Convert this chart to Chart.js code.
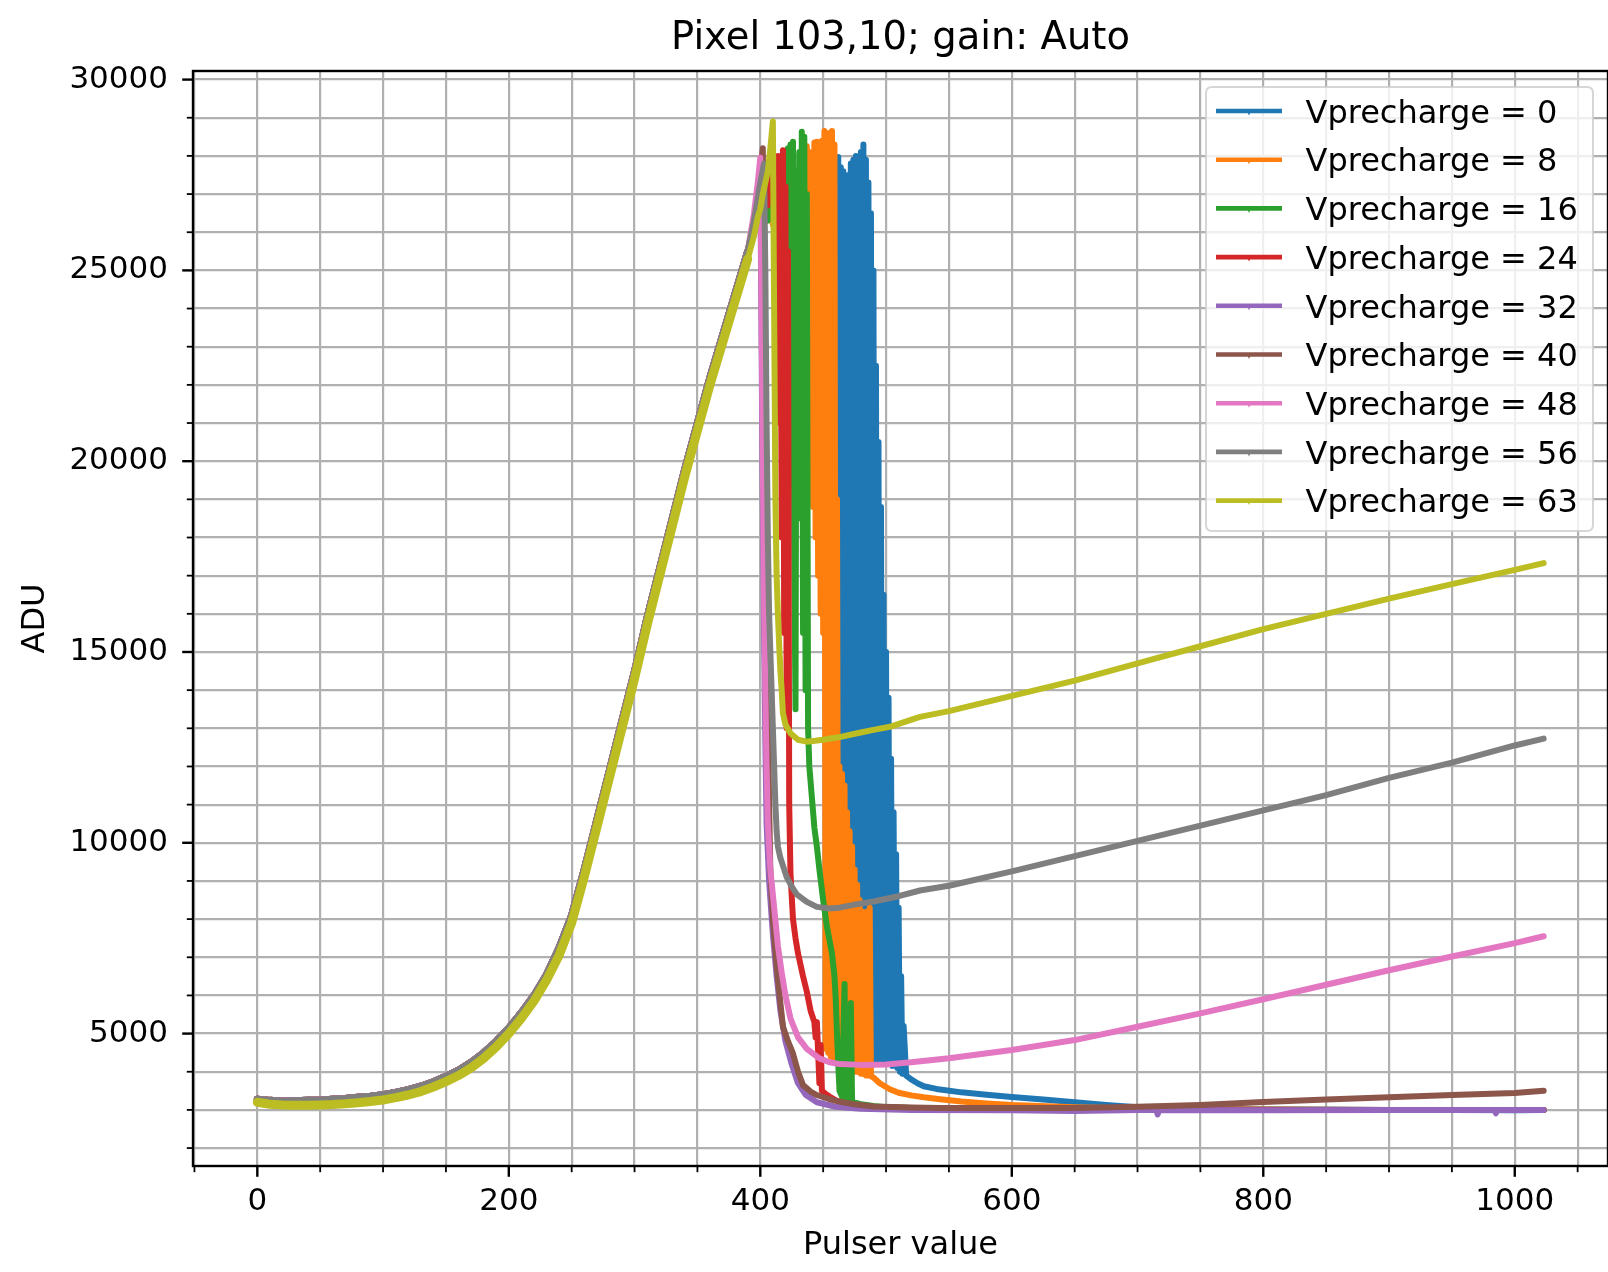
<!DOCTYPE html>
<html><head><meta charset="utf-8">
<script src="https://cdn.jsdelivr.net/npm/chart.js@4.4.1/dist/chart.umd.min.js"></script>
<style>html,body{margin:0;padding:0;background:#fff;}canvas{display:block;}</style>
</head><body>
<canvas id="c" width="1608" height="1272" style="width:1608px;height:1272px"></canvas>
<script>
// ---------------- DATA ----------------
const chartTitle = 'Pixel 103,10; gain: Auto';
const xTitle = 'Pulser value';
const yTitle = 'ADU';
const seriesLabels = ['Vprecharge = 0','Vprecharge = 8','Vprecharge = 16','Vprecharge = 24','Vprecharge = 32','Vprecharge = 40','Vprecharge = 48','Vprecharge = 56','Vprecharge = 63'];
const seriesColors = ['#1f77b4','#ff7f0e','#2ca02c','#d62728','#9467bd','#8c564b','#e377c2','#7f7f7f','#bcbd22'];
const xRange = [-51.15, 1074.15];
const yRange = [1530, 30225];
const xTickValues = [-50,0,50,100,150,200,250,300,350,400,450,500,550,600,650,700,750,800,850,900,950,1000,1050];
const yTickValues = [2000,3000,4000,5000,6000,7000,8000,9000,10000,11000,12000,13000,14000,15000,16000,17000,18000,19000,20000,21000,22000,23000,24000,25000,26000,27000,28000,29000,30000];
const xMajorTicks = [0, 200, 400, 600, 800, 1000];
const yMajorTicks = [5000, 10000, 15000, 20000, 25000, 30000];

// shared rising part (pulser 0..390)
const riseX = [0,10,20,30,40,50,60,70,80,90,100,110,120,130,140,150,160,170,180,190,200,210,220,230,240,250,260,270,280,290,300,310,320,330,340,350,360,370,380,390];
const riseY = [3280,3250,3230,3240,3250,3260,3280,3300,3330,3360,3400,3460,3530,3620,3740,3880,4040,4250,4500,4800,5150,5550,6000,6550,7250,8100,9300,10600,11900,13200,14500,15900,17200,18500,19800,21000,22200,23300,24400,25500];
const riseY63 = [3200,3150,3130,3120,3120,3130,3140,3160,3190,3220,3260,3320,3390,3480,3600,3740,3900,4100,4350,4650,5000,5400,5850,6400,7050,7900,9100,10400,11700,13000,14300,15700,17000,18300,19600,20800,22000,23100,24200,25300];

// per-series behaviour after the rise: [pulser, ADU]
const tail0 = [[395,26300],[398,26900],[400,27100],[402,27400],[404,26700],[406,27500],[408,26900],[410,27600],[412,26600],[414,27300],[416,25900],[418,27200],[420,26400],[422,27400],[424,25300],[426,26800],[428,27300],[430,26000],[432,27500],[434,26600],[436,25600],[438,27300],[440,26500],[442,27200],[443,26500],[445,27800],[447,26200],[449,27500],[451,25000],[453,27000],[455,24400],[457,26800],[459,25500],[460,27600],
[461,4600],[462,27970],[463,4500],[464,27700],[465,4500],[466,27600],[467,4450],[468,27300],[469,4450],[470,27500],
[471,4400],[472,27800],[473,4400],[474,27900],[475,4400],[476,28000],[477,4350],[478,27900],[479,4350],[480,28100],
[481,4350],[482,28300],[483,4300],[484,27900],[485,4300],[486,27300],[487,4300],[488,26500],[489,4400],[490,25000],
[491,4300],[492,22500],[493,4350],[494,20500],[495,4300],[496,18800],[497,4250],[498,16500],[499,4300],[500,15000],
[501,4200],[502,13800],[503,4250],[504,12200],[505,4150],[506,10800],[507,4200],[508,9700],[509,4100],[510,8300],
[511,4000],[512,6500],[513,3950],[514,5200],[516,3900],[520,3800],[525,3700],[530,3620],[540,3550],[560,3460],[580,3400],[600,3340],[625,3270],[650,3200],[675,3130],[700,3070],[750,3030],[800,3020],[850,3010],[900,3000],[950,3000],[1000,2990],[1023,3000]];
const tail8 = [[395,26100],[398,26700],[400,27000],[402,26400],[404,27200],[406,26500],[408,27400],[410,26200],[412,27100],[414,25800],[416,26900],[418,27300],[420,26100],[422,26800],[424,24800],[426,26400],[428,27000],[430,25600],[432,27400],[434,26300],
[435,28100],[436,24500],[437,28250],[438,22500],[439,28000],[440,19500],[441,28100],[442,18800],[443,28350],[444,18000],[445,28370],[446,17000],[447,28200],[448,16000],[449,28400],[450,15500],[451,28650],[452,4600],[453,28500],[454,4500],[455,28600],[456,4400],[457,28650],[458,4350],[459,28300],[460,4300],[461,19000],[462,4250],[463,12000],[464,4200],[465,11800],[466,4150],[467,11500],[468,4100],[469,10800],[470,4100],[471,10300],[472,4050],[473,9900],[474,4050],[475,9300],[476,4000],[477,8900],[478,4000],[479,8500],[480,3950],[481,8200],[482,3950],[483,8100],[484,3900],[485,8200],[486,3900],[487,8300],[488,3880],
[490,3850],[495,3700],[500,3600],[503,3540],[510,3450],[520,3380],[530,3330],[543,3280],[560,3220],[580,3170],[600,3130],[650,3070],[700,3040],[750,3020],[800,3010],[900,3000],[1000,3000],[1023,3000]];
const tail16 = [[395,26200],[398,26800],[400,27100],[402,26600],[404,27300],[406,26300],[408,27500],[410,26800],[412,27600],[414,26500],[416,27700],[418,27000],[420,27900],[421,25000],[422,28200],[423,23000],[424,28300],[425,21000],[426,28370],[427,17500],[428,13500],[429,27600],[430,22000],[431,28100],[432,18500],[433,28630],[434,15500],[435,28500],[436,14000],[437,27000],[438,13000],[439,12000],[441,11200],[443,10400],[445,9900],[447,9300],[450,8500],[453,7800],[457,7100],[459,6500],[460,5900],[461,5000],[462,4200],[463,3500],[465,3350],[467,6300],[468,3300],[470,3250],[472,5800],[473,3200],[476,3180],[480,3150],[490,3100],[500,3070],[520,3050],[550,3030],[600,3020],[700,3000],[800,3000],[900,3000],[1023,3000]];
const tail24 = [[395,26000],[398,26600],[400,27000],[402,26500],[404,27200],[406,26700],[408,27500],[410,26900],[412,27900],[413,24000],[414,28000],[415,21000],[416,27700],[417,18000],[418,28150],[419,15500],[420,27200],[421,13000],[422,25500],[423,11000],[424,9200],[426,8000],[428,7500],[430,7100],[432,6800],[434,6500],[437,6100],[440,5600],[443,5300],[444,4900],[445,5300],[446,4500],[447,3700],[448,4700],[449,3500],[452,3420],[455,3350],[460,3250],[465,3200],[470,3150],[480,3100],[490,3080],[520,3050],[560,3030],[600,3020],[700,3010],[800,3000],[900,3000],[1023,3000]];
const tail32 = [[395,26200],[398,27000],[400,27600],[401,23000],[402,19000],[403,15500],[404,12700],[405,10500],[407,9000],[410,7600],[413,6500],[416,5600],[420,4800],[425,4200],[430,3700],[436,3400],[445,3200],[460,3080],[480,3030],[520,3000],[600,2990],[650,2970],[700,3000],[715,3000],[716,2880],[717,3000],[800,2990],[900,3000],[984,3000],[985,2910],[986,3000],[1023,3000]];
const tail40 = [[395,26300],[398,27100],[400,27600],[402,28200],[403,24000],[404,20000],[405,16500],[406,13500],[407,11000],[408,9300],[410,8000],[413,6750],[416,5800],[418,5180],[422,4800],[426,4480],[430,4000],[434,3650],[440,3480],[445,3390],[455,3280],[463,3215],[475,3150],[490,3090],[520,3060],[543,3050],[600,3050],[650,3050],[700,3080],[750,3130],[800,3210],[850,3270],[900,3330],[950,3390],[1000,3440],[1023,3500]];
const tail48 = [[395,26500],[398,27300],[400,27950],[401,24000],[402,20000],[403,16500],[404,14000],[405,12000],[406,10500],[408,9300],[411,8300],[414,7300],[417,6600],[420,6000],[424,5400],[430,4900],[437,4600],[447,4350],[455,4250],[463,4200],[480,4180],[500,4190],[520,4250],[550,4355],[600,4570],[650,4830],[700,5180],[750,5530],[800,5900],[850,6280],[900,6660],[950,7020],[1000,7370],[1023,7550]];
const tail56 = [[395,26300],[398,26900],[400,27300],[403,27800],[404,25000],[405,21000],[406,18000],[407,16000],[408,15000],[409,14000],[410,13000],[411,12000],[412,11000],[413,10300],[414,9900],[416,9600],[418,9400],[421,9100],[425,8850],[429,8650],[437,8450],[445,8320],[455,8280],[463,8300],[475,8380],[490,8460],[510,8600],[527,8750],[551,8880],[600,9250],[650,9650],[700,10050],[750,10450],[800,10850],[850,11250],[900,11700],[950,12100],[1000,12550],[1023,12730]];
const tail63 = [[395,25900],[398,26400],[400,26600],[402,27000],[404,27300],[406,27600],[408,28200],[410,28900],[411,24000],[412,19000],[413,17000],[414,16000],[415,15200],[416,14500],[417,14000],[418,13400],[420,13100],[424,12870],[430,12700],[437,12650],[450,12700],[463,12770],[477,12870],[490,12960],[503,13040],[527,13300],[550,13450],[600,13850],[650,14250],[700,14700],[750,15150],[800,15600],[850,16000],[900,16400],[950,16780],[1000,17150],[1023,17330]];
const tails = [tail0, tail8, tail16, tail24, tail32, tail40, tail48, tail56, tail63];

// ---------------- CHART ----------------
const FONT = 'DejaVu Sans';
const LW = 4.6;       // legend handle width
const DATA_LW = 6;    // plotted (noisy) lines look a bit thicker
const datasets = seriesLabels.map((label, i) => {
  const rise = (i === 8 ? riseY63 : riseY);
  const pts = riseX.map((x, k) => ({x: x, y: rise[k]})).concat(tails[i].map(p => ({x: p[0], y: p[1]})));
  const riseW = (i === 8 ? 9 : 7);
  return {
    label: label, data: pts, showLine: true, borderColor: seriesColors[i], backgroundColor: seriesColors[i],
    borderWidth: DATA_LW, pointRadius: 0, pointHoverRadius: 0, fill: false, tension: 0, order: 8 - i,
    borderJoinStyle: 'round', borderCapStyle: 'round',
    segment: { borderWidth: c => (c.p1.parsed.x <= 392 ? riseW : DATA_LW) }
  };
});

const decor = {
  id: 'decor',
  afterDraw(chart) {
    const {ctx, chartArea: a, scales} = chart;
    const xs = scales.x, ys = scales.y;
    ctx.save();
    ctx.strokeStyle = '#000';
    xs.ticks.forEach(t => {
      const major = xMajorTicks.includes(t.value);
      const px = xs.getPixelForValue(t.value);
      ctx.lineWidth = major ? 2.4 : 1.8;
      ctx.beginPath(); ctx.moveTo(px, a.bottom); ctx.lineTo(px, a.bottom + (major ? 10.8 : 6.2)); ctx.stroke();
    });
    ys.ticks.forEach(t => {
      const major = yMajorTicks.includes(t.value);
      const py = ys.getPixelForValue(t.value);
      ctx.lineWidth = major ? 2.4 : 1.8;
      ctx.beginPath(); ctx.moveTo(a.left, py); ctx.lineTo(a.left - (major ? 10.8 : 6.2), py); ctx.stroke();
    });
    ctx.lineWidth = 2.4;
    ctx.strokeRect(a.left, a.top, a.right - a.left, a.bottom - a.top);
    // title
    ctx.fillStyle = '#000';
    ctx.font = '38.5px "' + FONT + '"';
    ctx.textAlign = 'center'; ctx.textBaseline = 'alphabetic';
    ctx.fillText(chartTitle, (a.left + a.right) / 2, 48.5);
    // legend
    const bx = a.right - 402, by = a.top + 16, bw = 387, bh = 444, r = 6;
    ctx.beginPath();
    ctx.moveTo(bx + r, by); ctx.lineTo(bx + bw - r, by); ctx.quadraticCurveTo(bx + bw, by, bx + bw, by + r);
    ctx.lineTo(bx + bw, by + bh - r); ctx.quadraticCurveTo(bx + bw, by + bh, bx + bw - r, by + bh);
    ctx.lineTo(bx + r, by + bh); ctx.quadraticCurveTo(bx, by + bh, bx, by + bh - r);
    ctx.lineTo(bx, by + r); ctx.quadraticCurveTo(bx, by, bx + r, by); ctx.closePath();
    ctx.fillStyle = 'rgba(255,255,255,0.8)'; ctx.fill();
    ctx.strokeStyle = 'rgba(204,204,204,0.8)'; ctx.lineWidth = 2; ctx.stroke();
    ctx.font = '32px "' + FONT + '"';
    ctx.textAlign = 'left';
    seriesLabels.forEach((lab, i) => {
      const cy = by + 24 + i * 48.7;
      ctx.strokeStyle = seriesColors[i]; ctx.lineWidth = LW; ctx.lineCap = 'butt';
      ctx.beginPath(); ctx.moveTo(bx + 10, cy); ctx.lineTo(bx + 76, cy); ctx.stroke();
      ctx.fillStyle = seriesColors[i];
      ctx.beginPath(); ctx.moveTo(bx + 41, cy); ctx.lineTo(bx + 45, cy); ctx.lineTo(bx + 43, cy + 4.5); ctx.closePath(); ctx.fill();
      ctx.fillStyle = '#000';
      ctx.fillText(lab, bx + 99.5, cy + 11.7);
    });
    ctx.restore();
  }
};

new Chart(document.getElementById('c').getContext('2d'), {
  type: 'scatter',
  data: {datasets: datasets},
  options: {
    responsive: false, animation: false, devicePixelRatio: 1,
    layout: {padding: {top: 71, left: 0, right: 0, bottom: 0}},
    plugins: {legend: {display: false}, tooltip: {enabled: false}, title: {display: false}},
    scales: {
      x: {
        type: 'linear', min: xRange[0], max: xRange[1],
        afterBuildTicks: s => { s.ticks = xTickValues.map(v => ({value: v})); },
        ticks: {autoSkip: false, maxRotation: 0, minRotation: 0, padding: 17, color: '#000',
          font: {family: FONT, size: 31}, callback: v => xMajorTicks.includes(v) ? String(v) : ''},
        grid: {color: '#b0b0b0', lineWidth: 2.2, drawTicks: false},
        border: {display: false},
        title: {display: true, text: xTitle, color: '#000', font: {family: FONT, size: 32}, padding: {top: 0, bottom: 7.5}},
        afterFit: s => { s.height = 106; }
      },
      y: {
        type: 'linear', min: yRange[0], max: yRange[1],
        afterBuildTicks: s => { s.ticks = yTickValues.map(v => ({value: v})); },
        ticks: {autoSkip: false, padding: 25, color: '#000',
          font: {family: FONT, size: 31}, callback: v => yMajorTicks.includes(v) ? String(v) : ''},
        grid: {color: '#b0b0b0', lineWidth: 2.2, drawTicks: false},
        border: {display: false},
        title: {display: true, text: yTitle, color: '#000', font: {family: FONT, size: 32}, padding: {top: 16, bottom: 0}},
        afterFit: s => { s.width = 193; }
      }
    }
  },
  plugins: [decor]
});
</script>
</body></html>
